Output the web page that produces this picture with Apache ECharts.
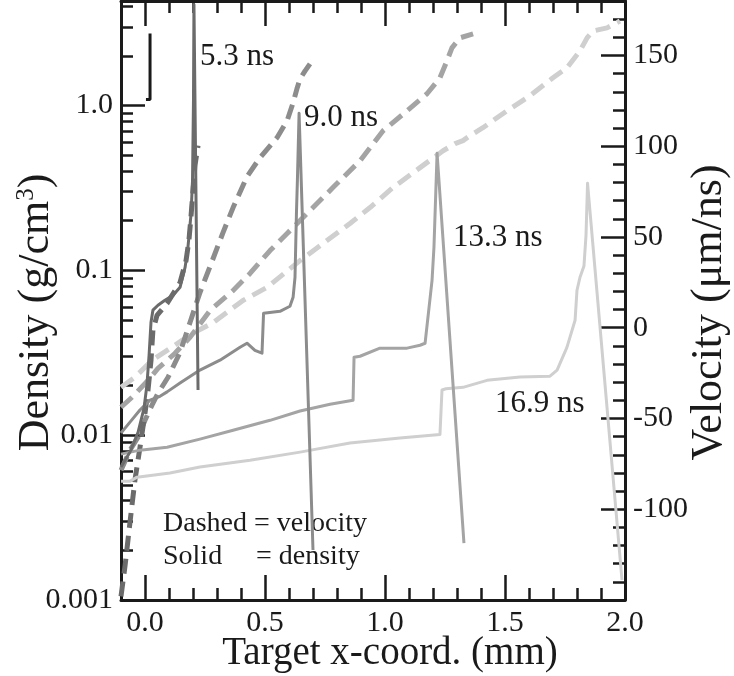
<!DOCTYPE html>
<html>
<head>
<meta charset="utf-8">
<script src="https://cdn.jsdelivr.net/npm/echarts@6/dist/echarts.min.js"></script>
<style>
html,body{margin:0;padding:0;background:#ffffff;}
#chart{width:734px;height:676px;}
</style>
</head>
<body>
<div id="chart"></div>
<script>
// ---------------- data (x in mm, density in g/cm3, velocity in um/ns) ----------------
const d53x = [-0.1, -0.0625, -0.029, -0.004, 0.008, 0.017, 0.025, 0.033, 0.054, 0.083, 0.117, 0.146, 0.167, 0.179, 0.192, 0.198, 0.202, 0.204, 0.221];
const d53y = [0.0064, 0.0079, 0.0104, 0.0146, 0.0201, 0.0306, 0.0484, 0.0573, 0.0614, 0.0658, 0.0705, 0.0789, 0.104, 0.138, 0.221, 0.351, 1.07, 4.10, 0.0188];

const v53x = [-0.1, -0.083, -0.071, -0.058, -0.042, -0.021, 0.0, 0.0125, 0.025, 0.033, 0.05, 0.092, 0.146, 0.171, 0.183, 0.192, 0.2, 0.208, 0.221];
const v53y = [-148, -131, -117, -102, -84, -66, -47, -34.5, -18, -1.5, 6.8, 13.4, 24.9, 37.0, 48.0, 61.8, 75.5, 89.3, 100.3];

const d90x = [-0.1, -0.0625, -0.021, 0.021, 0.0625, 0.092, 0.146, 0.229, 0.3125, 0.396, 0.425, 0.458, 0.4875, 0.494, 0.5625, 0.604, 0.617, 0.625, 0.631, 0.635, 0.642, 0.70];
const d90y = [0.0103, 0.0120, 0.0142, 0.0163, 0.0172, 0.0183, 0.0207, 0.0248, 0.0285, 0.0341, 0.0361, 0.0327, 0.0314, 0.0549, 0.0564, 0.0605, 0.0686, 0.0907, 0.221, 0.351, 0.895, 0.00201];

const v90x = [-0.1, -0.0625, -0.029, 0, 0.029, 0.054, 0.096, 0.146, 0.1875, 0.229, 0.271, 0.325, 0.367, 0.425, 0.479, 0.55, 0.592, 0.617, 0.633, 0.646, 0.667, 0.6875];
const v90y = [-78.5, -67.5, -60.3, -51.0, -42.7, -36.1, -27.3, -13.6, 2.9, 19.4, 33.7, 52.4, 66.2, 83.2, 93.7, 104.7, 114.0, 123.9, 131.6, 137.1, 141.5, 145.4];

const d133x = [-0.1, -0.021, 0.092, 0.229, 0.367, 0.521, 0.646, 0.771, 0.867, 0.871, 0.896, 0.979, 1.021, 1.092, 1.146, 1.167, 1.179, 1.196, 1.204, 1.217, 1.329];
const d133y = [0.00767, 0.00811, 0.00845, 0.00946, 0.0107, 0.0123, 0.0140, 0.0154, 0.0163, 0.0297, 0.0301, 0.0337, 0.0337, 0.0337, 0.0351, 0.0361, 0.0519, 0.0869, 0.138, 0.512, 0.00221];

const v133x = [-0.1, -0.054, 0.0125, 0.054, 0.125, 0.1875, 0.271, 0.367, 0.4375, 0.521, 0.592, 0.7, 0.783, 0.896, 0.992, 1.092, 1.175, 1.229, 1.258, 1.279, 1.3125, 1.367];
const v133y = [-43.8, -38.3, -29.0, -22.4, -14.1, -5.3, 9.5, 20.5, 29.9, 42.5, 51.9, 66.2, 77.2, 92.0, 108.5, 119.5, 128.9, 137.7, 147.0, 154.2, 159.7, 161.9];

const d169x = [-0.1, -0.0625, -0.033, 0.104, 0.229, 0.4375, 0.646, 0.854, 1.0625, 1.229, 1.2375, 1.254, 1.325, 1.425, 1.5625, 1.6875, 1.717, 1.758, 1.792, 1.8, 1.8125, 1.829, 1.8375, 1.844, 1.9875];
const d169y = [0.00526, 0.00526, 0.00556, 0.00589, 0.0064, 0.00705, 0.00789, 0.00895, 0.0096, 0.0101, 0.0188, 0.0191, 0.0195, 0.0215, 0.0225, 0.0228, 0.0248, 0.0341, 0.0498, 0.0757, 0.0907, 0.106, 0.163, 0.337, 0.00132];

const v169x = [-0.1, -0.042, 0.029, 0.092, 0.154, 0.221, 0.279, 0.408, 0.508, 0.646, 0.758, 0.854, 0.9375, 1.033, 1.146, 1.242, 1.292, 1.325, 1.354, 1.408, 1.508, 1.604, 1.7, 1.758, 1.8125, 1.842, 1.867, 1.925, 1.979];
const v169y = [-32.8, -27.3, -18.0, -12.5, -7.0, -1.5, 2.4, 15.0, 22.2, 37.0, 48.0, 57.4, 66.2, 77.2, 88.2, 97.5, 101.4, 103.1, 105.8, 110.2, 119.5, 127.8, 137.7, 143.2, 152.5, 159.7, 163.5, 165.2, 169.0];

// small bracket marker near top-left
const bracketX = [0.004, 0.021, 0.021];
const bracketY = [1.087, 1.087, 2.73];

// axis ticks / labels
const xMajorTicks = [0, 0.5, 1.0, 1.5, 2.0];
const densityMin = 0.001, densityMax = 4.3;
const velMin = -150, velMax = 180;
const labels = ['5.3 ns', '9.0 ns', '13.3 ns', '16.9 ns'];

// ---------------- chart ----------------
const FONT = '"Liberation Serif", "Times New Roman", serif';
const INK = '#1a1a1a';
const colors = { c53: '#6b6b6b', c90: '#8c8c8c', c133: '#a4a4a4', c169: '#cfcfcf' };

function pairs(xs, ys) { return xs.map((x, i) => [x, ys[i]]); }

const logMinor = [];
for (let d = -3; d <= 0; d++) {
  for (let k = 2; k <= 9; k++) {
    const v = d + Math.log10(k);
    if (v <= Math.log10(densityMax)) logMinor.push(v);
  }
}

const axisLineStyle = { color: INK, width: 3 };
const tickStyle = { color: INK, width: 2.5 };

function lineSeries(name, xs, ys, color, yIdx, dashed) {
  return {
    type: 'line', name: name, xAxisIndex: 0, yAxisIndex: yIdx,
    data: pairs(xs, ys), showSymbol: false, symbol: 'none', animation: false, silent: true,
    lineStyle: { color: color, width: dashed ? 5 : 3, type: dashed ? [15, 8] : 'solid', cap: 'butt', join: 'round' },
    z: dashed ? 2 : 3
  };
}

const chart = echarts.init(document.getElementById('chart'), null, { renderer: 'canvas' });

const Y_TITLE = 44;

const option = {
  animation: false,
  backgroundColor: '#ffffff',
  textStyle: { fontFamily: FONT },
  grid: { left: 121, right: 109, top: 1, bottom: 76, containLabel: false, outerBoundsMode: 'none' },
  xAxis: [
    {
      type: 'value', position: 'bottom', min: -0.1, max: 2.0,
      axisLine: { show: true, onZero: false, lineStyle: axisLineStyle },
      axisTick: { show: true, inside: true, length: 25, lineStyle: tickStyle, customValues: xMajorTicks },
      axisLabel: { show: true, customValues: xMajorTicks, formatter: v => Number(v).toFixed(1), fontFamily: FONT, fontSize: 30, color: INK, margin: 8 },
      splitLine: { show: false },
      name: 'Target x-coord. (mm)', nameLocation: 'middle', nameGap: 34, nameMoveOverlap: false,
      nameTextStyle: { fontFamily: FONT, fontSize: 39, color: INK, padding: [0, 0, 0, 34] }
    },
    {
      type: 'value', position: 'bottom', min: -0.1, max: 2.0, interval: 0.1,
      axisLine: { show: false, onZero: false },
      axisTick: { show: true, inside: true, length: 12, lineStyle: tickStyle },
      axisLabel: { show: false }, splitLine: { show: false }
    },
    {
      type: 'value', position: 'top', min: -0.1, max: 2.0,
      axisLine: { show: true, onZero: false, lineStyle: axisLineStyle },
      axisTick: { show: true, inside: true, length: 25, lineStyle: tickStyle, customValues: xMajorTicks },
      axisLabel: { show: false, customValues: xMajorTicks }, splitLine: { show: false }
    },
    {
      type: 'value', position: 'top', min: -0.1, max: 2.0, interval: 0.1,
      axisLine: { show: false, onZero: false },
      axisTick: { show: true, inside: true, length: 12, lineStyle: tickStyle },
      axisLabel: { show: false }, splitLine: { show: false }
    }
  ],
  yAxis: [
    {
      type: 'log', logBase: 10, position: 'left', min: densityMin, max: densityMax,
      axisLine: { show: true, onZero: false, lineStyle: axisLineStyle },
      axisTick: { show: true, inside: true, length: 24, lineStyle: tickStyle },
      minorTick: { show: false },
      axisLabel: {
        fontFamily: FONT, fontSize: 30, color: INK, margin: 8,
        formatter: function (v) {
          const l = Math.log10(v);
          if (Math.abs(l - Math.round(l)) > 1e-6) return '';
          return v >= 1 ? Number(v).toFixed(1) : String(+Number(v).toPrecision(1));
        }
      },
      splitLine: { show: false },
      name: '{a|Density (g/cm}{s|3}{a|)}', nameLocation: 'middle', nameRotate: 90, nameGap: 63, nameMoveOverlap: false,
      nameTextStyle: {
        fontFamily: FONT, fontSize: Y_TITLE, color: INK, padding: [0, 24, 0, 0],
        rich: {
          a: { fontFamily: FONT, fontSize: Y_TITLE, color: INK },
          s: { fontFamily: FONT, fontSize: 25, color: INK, verticalAlign: 'top' }
        }
      }
    },
    {
      type: 'value', position: 'left', min: -3, max: Math.log10(densityMax),
      axisLine: { show: false, onZero: false },
      axisTick: { show: true, inside: true, length: 12, lineStyle: tickStyle, customValues: logMinor },
      axisLabel: { show: false, customValues: logMinor }, splitLine: { show: false }
    },
    {
      type: 'value', position: 'right', min: velMin, max: velMax, interval: 50,
      axisLine: { show: true, onZero: false, lineStyle: axisLineStyle },
      axisTick: { show: true, inside: true, length: 24, lineStyle: tickStyle },
      axisLabel: {
        fontFamily: FONT, fontSize: 30, color: INK, margin: 8,
        formatter: v => (v <= velMin || v >= velMax) ? '' : String(v)
      },
      splitLine: { show: false },
      name: 'Velocity (\u03bcm/ns)', nameLocation: 'middle', nameRotate: 90, nameGap: 62, nameMoveOverlap: false,
      nameTextStyle: { fontFamily: FONT, fontSize: Y_TITLE, color: INK, padding: [0, 24, 0, 0] }
    },
    {
      type: 'value', position: 'right', min: velMin, max: velMax, interval: 10,
      axisLine: { show: false, onZero: false },
      axisTick: { show: true, inside: true, length: 12, lineStyle: tickStyle },
      axisLabel: { show: false }, splitLine: { show: false }
    }
  ],
  series: [
    lineSeries('v16.9', v169x, v169y, colors.c169, 2, true),
    lineSeries('v13.3', v133x, v133y, colors.c133, 2, true),
    lineSeries('v9.0', v90x, v90y, colors.c90, 2, true),
    lineSeries('v5.3', v53x, v53y, colors.c53, 2, true),
    lineSeries('d16.9', d169x, d169y, colors.c169, 0, false),
    lineSeries('d13.3', d133x, d133y, colors.c133, 0, false),
    lineSeries('d9.0', d90x, d90y, colors.c90, 0, false),
    lineSeries('d5.3', d53x, d53y, colors.c53, 0, false),
    {
      type: 'line', name: 'bracket', xAxisIndex: 0, yAxisIndex: 0, data: pairs(bracketX, bracketY),
      showSymbol: false, symbol: 'none', silent: true, animation: false,
      lineStyle: { color: INK, width: 3 }, z: 4
    }
  ],
  graphic: [
    { type: 'text', x: 200, y: 57, style: { text: labels[0], font: '31px "Liberation Serif"', fill: INK, verticalAlign: 'middle', align: 'left' } },
    { type: 'text', x: 304, y: 118, style: { text: labels[1], font: '31px "Liberation Serif"', fill: INK, verticalAlign: 'middle', align: 'left' } },
    { type: 'text', x: 453, y: 238, style: { text: labels[2], font: '31px "Liberation Serif"', fill: INK, verticalAlign: 'middle', align: 'left' } },
    { type: 'text', x: 495, y: 404, style: { text: labels[3], font: '31px "Liberation Serif"', fill: INK, verticalAlign: 'middle', align: 'left' } },
    { type: 'text', x: 163, y: 524, style: { text: 'Dashed = velocity', font: '28px "Liberation Serif"', fill: INK, verticalAlign: 'middle', align: 'left' } },
    { type: 'text', x: 163, y: 557, style: { text: 'Solid', font: '28px "Liberation Serif"', fill: INK, verticalAlign: 'middle', align: 'left' } },
    { type: 'text', x: 256, y: 557, style: { text: '= density', font: '28px "Liberation Serif"', fill: INK, verticalAlign: 'middle', align: 'left' } }
  ]
};

chart.setOption(option);
</script>
</body>
</html>
